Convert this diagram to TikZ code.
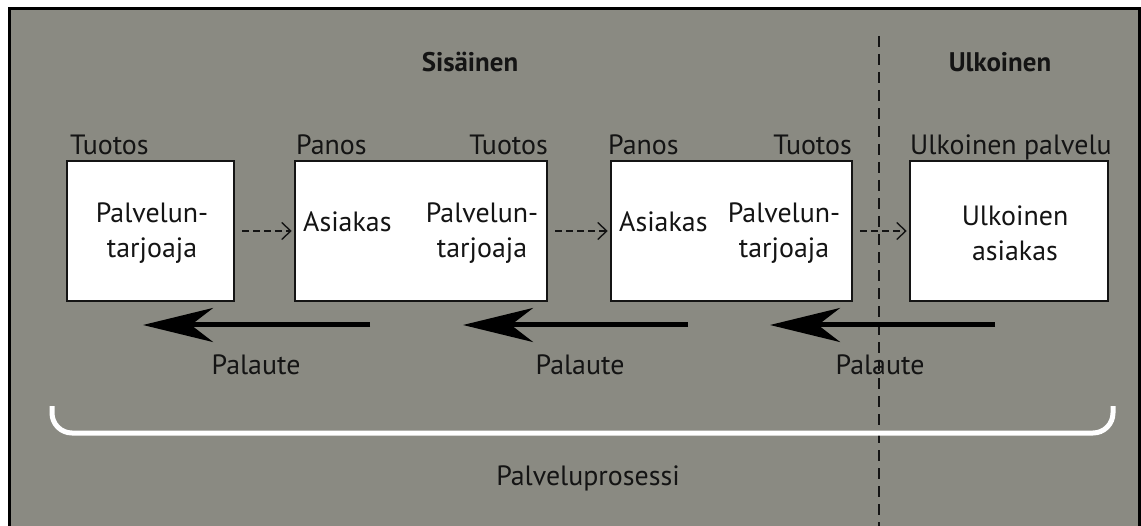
\documentclass[tikz,border=0pt]{standalone}
\usepackage{fontspec}
\setmainfont{PT Sans}
\usetikzlibrary{arrows.meta}
\definecolor{bg}{RGB}{138,138,130}
\definecolor{ink}{RGB}{20,20,20}
\begin{document}
\begin{tikzpicture}[x=1bp,y=-1bp,
  txt/.style={font=\fontsize{28}{35}\selectfont, text=ink, inner sep=0pt},
  ttl/.style={txt, font=\fontsize{27}{35}\selectfont\bfseries},
  box/.style={draw=ink, line width=2.5bp, fill=white, minimum height=140bp, inner sep=0pt},
  dasharrow/.style={draw=ink, line width=1.4bp, dash pattern=on 7bp off 4bp, -{Straight Barb[length=9bp,width=17bp,line width=1.4bp]}, shorten <=7bp, shorten >=2bp},
  feedback/.style={draw=black, line width=5bp, -{Stealth[length=70bp,width=34bp,inset=22bp]}},
  divider/.style={draw=ink, line width=2bp, dash pattern=on 11bp off 7bp}
]
\useasboundingbox (0,0) rectangle (1141,526);
\clip (0,0) rectangle (1141,526);
\fill[white] (0,0) rectangle (1141,526);
\draw[black, line width=3bp, fill=bg] (9.5,8.5) rectangle (1139.5,560);

% divider
\coordinate (dtop) at (879,36);
\coordinate (dbot) at (879,530);
\draw[divider] (dtop) -- (dbot);

% titles
\node[ttl, anchor=base] (sis) at (470,72) {Sisäinen};
\node[ttl, anchor=base] (ulk) at (1000,72) {Ulkoinen};

% boxes
\node[box, minimum width=167bp] (b1) at (150.5,231) {};
\node[box, minimum width=252bp] (b2) at (421,231) {};
\node[box, minimum width=241bp] (b3) at (731.5,231) {};
\node[box, minimum width=198bp] (b4) at (1009,231) {};

% labels above boxes
\node[txt, anchor=base west] (l1) at (70,155) {Tuotos};
\node[txt, anchor=base west] (l2) at (296,155) {Panos};
\node[txt, anchor=base east] (l3) at (548,155) {Tuotos};
\node[txt, anchor=base west] (l4) at (608,155) {Panos};
\node[txt, anchor=base east] (l5) at (852,155) {Tuotos};
\node[txt, anchor=base west] (l6) at (910,155) {Ulkoinen palvelu};

% text in boxes
\node[txt, align=center] (p1) at (152,233) {Palvelun-\\tarjoaja};
\node[txt, anchor=base west] (a2) at (303,232) {Asiakas};
\node[txt, align=center] (p2) at (482,233) {Palvelun-\\tarjoaja};
\node[txt, anchor=base west] (a3) at (619,232) {Asiakas};
\node[txt, align=center] (p3) at (784,233) {Palvelun-\\tarjoaja};
\node[txt, align=center] (p4) at (1015,233) {Ulkoinen\\asiakas};

% dashed flow arrows
\draw[dasharrow] (b1.east) -- (b2.west);
\draw[dasharrow] (b2.east) -- (b3.west);
\draw[dasharrow] (b3.east) -- (b4.west);

% feedback arrows
\coordinate (f1s) at (370,325); \coordinate (f1e) at (143,325);
\coordinate (f2s) at (688,325); \coordinate (f2e) at (463,325);
\coordinate (f3s) at (995,325); \coordinate (f3e) at (770,325);
\draw[feedback] (f1s) -- (f1e);
\draw[feedback] (f2s) -- (f2e);
\draw[feedback] (f3s) -- (f3e);

\node[txt, anchor=base] (pa1) at (256,375) {Palaute};
\node[txt, anchor=base] (pa2) at (580,375) {Palaute};
\node[txt, anchor=base] (pa3) at (880,375) {Palaute};

% bracket
\coordinate (bl) at (52,406); \coordinate (br) at (1113,406);
\draw[white, line width=5bp, rounded corners=20bp] (bl) -- (52,433) -- (1113,433) -- (br);

\node[txt, anchor=base] (pp) at (588,485) {Palveluprosessi};
\end{tikzpicture}
\end{document}
